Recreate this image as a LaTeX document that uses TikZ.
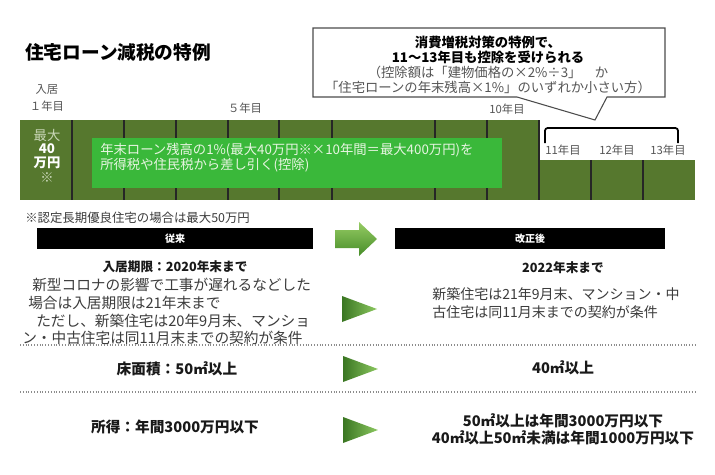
\documentclass[tikz,border=0pt]{standalone}
\usepackage{fontspec}
\setmainfont{Noto Sans CJK JP}
\usetikzlibrary{calc}
\definecolor{olive}{RGB}{86,120,46}
\definecolor{bright}{RGB}{58,184,58}
\definecolor{boxtxt}{RGB}{232,245,226}
\definecolor{lightol}{RGB}{200,214,182}
\definecolor{bodytxt}{RGB}{60,60,60}
\definecolor{labtxt}{RGB}{85,85,85}
\definecolor{arrlight}{RGB}{150,204,100}
\definecolor{arrdark}{RGB}{70,140,40}
\definecolor{tridark}{RGB}{58,118,34}
\definecolor{trilight}{RGB}{140,200,96}
\tikzset{
  lbl/.style={inner sep=0pt, text=labtxt, font=\fontsize{8.5}{9}\selectfont},
  body/.style={inner sep=0pt, anchor=west, text=bodytxt, font=\fontsize{11}{12}\selectfont},
  rbody/.style={inner sep=0pt, anchor=west, text=bodytxt, font=\fontsize{10.5}{12}\selectfont},
  blab/.style={inner sep=0pt, text=black!90, font=\bfseries\fontsize{11}{12}\selectfont},
  slab/.style={inner sep=0pt, text=black!90, font=\bfseries\fontsize{9.5}{10}\selectfont},
  hdrbar/.style={fill=black},
  divider/.style={draw=black!85, line width=0.9pt},
  dotline/.style={draw=black!45, line width=0.9pt, dash pattern=on 0.8pt off 1.3pt},
  boxline/.style={inner sep=0pt, anchor=west, text=boxtxt, font=\fontsize{10}{11}\selectfont},
  call/.style={inner sep=0pt, font=\fontsize{10}{11}\selectfont},
}
\begin{document}
\begin{tikzpicture}[x=0.75pt,y=-0.75pt]
\useasboundingbox (0,0) rectangle (715,475);
\fill[white] (0,0) rectangle (715,475);

% title
\node[inner sep=0pt, anchor=west, font=\bfseries\fontsize{14}{15}\selectfont] (title) at (25,52) {住宅ローン減税の特例};

% callout
\draw[draw=black!70, line width=0.8pt, fill=white]
  (313,28) -- (665,28) -- (665,97) -- (607,97) -- (595,120) -- (517,97) -- (313,97) -- cycle;
\node[call, font=\bfseries\fontsize{10}{11}\selectfont] (c1) at (488,42) {消費増税対策の特例で、};
\node[call, font=\bfseries\fontsize{10}{11}\selectfont] (c2) at (488,57) {11～13年目も控除を受けられる};
\node[call, text=labtxt] (c3) at (488,72) {（控除額は「建物価格の×2\%÷3」　か};
\node[call, text=labtxt] (c4) at (488,87) {「住宅ローンの年末残高×1\%」のいずれか小さい方）};

% year labels
\node[lbl] (y1a) at (47,90) {入居};
\node[lbl] (y1b) at (47,106) {１年目};
\node[lbl] (y5) at (245,108) {５年目};
\node[lbl] (y10) at (507,109) {10年目};
\node[lbl] (y11) at (563,150) {11年目};
\node[lbl] (y12) at (617,150) {12年目};
\node[lbl] (y13) at (668,150) {13年目};

% bracket
\draw[line width=1.3pt, rounded corners=2pt] (545,143) -- (545,128) -- (678,128) -- (678,143);

% bar
\fill[olive] (20,120) rectangle (539,200);
\fill[olive] (539,160) rectangle (695,200);
\foreach \x in {72,124,176,228,279,332,435,487,539}
  \draw[divider] (\x,120) -- (\x,200);
\foreach \x in {591,643}
  \draw[divider] (\x,160) -- (\x,200);

% green box
\fill[bright] (92,138) rectangle (502,188);
\node[boxline] (b1) at (100,150) {年末ローン残高の1\%(最大40万円※×10年間＝最大400万円)を};
\node[boxline] (b2) at (100,165) {所得税や住民税から差し引く(控除)};

% first column
\node[inner sep=0pt, text=lightol, font=\fontsize{10}{11}\selectfont] (m1) at (47,135) {最大};
\node[inner sep=0pt, text=white, font=\bfseries\fontsize{10}{11}\selectfont] (m2) at (47,149) {40};
\node[inner sep=0pt, text=white, font=\bfseries\fontsize{10}{11}\selectfont] (m3) at (47,163) {万円};
\node[inner sep=0pt, text=lightol, font=\fontsize{10}{11}\selectfont] (m4) at (47,178) {※};

% note
\node[inner sep=0pt, anchor=west, text=bodytxt, font=\fontsize{9.3}{10}\selectfont] (note) at (25,218) {※認定長期優良住宅の場合は最大50万円};

% header bars
\fill[hdrbar] (37,228) rectangle (313,249);
\node[inner sep=0pt, text=white, font=\bfseries\fontsize{7.5}{8}\selectfont] (old) at (175,238.5) {従来};
\fill[hdrbar] (395,228) rectangle (665,249);
\node[inner sep=0pt, text=white, font=\bfseries\fontsize{7.5}{8}\selectfont] (new) at (530,238.5) {改正後};

% big arrow
\shade[top color=arrlight, bottom color=arrdark]
  (335,230) -- (359,230) -- (359,222) -- (377,239) -- (359,256) -- (359,248) -- (335,248) -- cycle;

% row 1
\node[slab] (r1l) at (175,267) {入居期限：2020年末まで};
\node[slab] (r1r) at (563,268) {2022年末まで};
\node[body] (p1) at (32,285) {新型コロナの影響で工事が遅れるなどした};
\node[body] (p2) at (28,303) {場合は入居期限は21年末まで};
\node[body] (p3) at (36,321) {ただし、新築住宅は20年9月末、マンショ};
\node[body] (p4) at (22,338) {ン・中古住宅は同11月末までの契約が条件};
\node[rbody] (q1) at (432,294) {新築住宅は21年9月末、マンション・中};
\node[rbody] (q2) at (432,312) {古住宅は同11月末までの契約が条件};
\shade[left color=tridark, right color=trilight] (342,296) -- (377,309) -- (342,322) -- cycle;

\draw[dotline] (20,345) -- (695,345);

% row 2
\node[blab] (r2l) at (177,369) {床面積：50㎡以上};
\node[blab] (r2r) at (563,368) {40㎡以上};
\shade[left color=tridark, right color=trilight] (343,356) -- (378,369) -- (343,382) -- cycle;

\draw[dotline] (20,392) -- (695,392);

% row 3
\node[blab] (r3l) at (175,427) {所得：年間3000万円以下};
\node[blab] (r3a) at (563,421) {50㎡以上は年間3000万円以下};
\node[blab] (r3b) at (563,438) {40㎡以上50㎡未満は年間1000万円以下};
\shade[left color=tridark, right color=trilight] (343,417) -- (378,430) -- (343,443) -- cycle;
\end{tikzpicture}
\end{document}
